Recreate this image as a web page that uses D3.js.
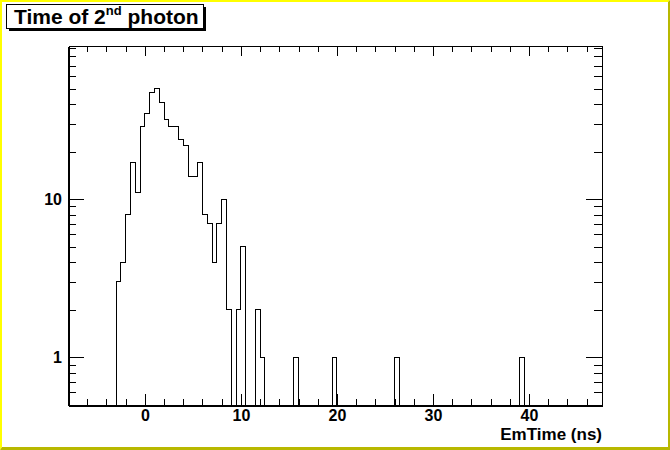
<!DOCTYPE html>
<html>
<head>
<meta charset="utf-8">
<script src="https://cdn.jsdelivr.net/npm/d3@7"></script>
<style>
  body { margin: 0; background: #fff; }
  svg { display: block; font-family: "Liberation Sans", Arial, Helvetica, sans-serif; font-weight: bold; }
</style>
</head>
<body>
<svg id="emtime" width="670" height="450"></svg>
<script>
// histogram contents, 0.5 ns bins
var binWidth = 0.5;
var peakStart = -3.0;
var peakCounts = [3, 4, 8, 17, 11, 29, 35, 47, 50, 41, 32, 29, 29, 24, 22, 14, 14, 17,
                  8, 7, 4, 7, 10, 2, 0, 2, 5, 0, 0, 2, 1];
var spikeStarts = [15.5, 19.5, 26.0, 39.0];
var spikeCounts = [1, 1, 1, 1];

var xRange = [-8, 47.6];
var yRange = [0.5, 93];
var xMajor = [0, 10, 20, 30, 40];
var xMinor = d3.range(-6, 47, 2).filter(function(v) { return v % 10 !== 0; });
var yMajor = [1, 10];
var yMinor = [0.6, 0.7, 0.8, 0.9, 2, 3, 4, 5, 6, 7, 8, 9, 20, 30, 40, 50, 60, 70, 80, 90];

var drawHist = function() {
    var svg = d3.select('#emtime');
    var W = 670, H = 450;
    var fLeft = 68, fRight = 602, fTop = 46, fBottom = 405;

    // canvas border
    svg.append('rect').attr('width', W).attr('height', H).attr('fill', '#fff');
    svg.append('polygon').attr('fill', '#ffff00')
        .attr('points', [[0, 0], [W, 0], [W - 2, 2], [2, 2], [2, H - 3], [0, H]].join(' '));
    svg.append('polygon').attr('fill', '#b8b800')
        .attr('points', [[W, 0], [W, H], [0, H], [2, H - 3], [W - 2, H - 3], [W - 2, 2]].join(' '));

    var x = d3.scaleLinear().domain(xRange).range([fLeft, fRight]);
    var y = d3.scaleLog().domain(yRange).range([fBottom, fTop]);

    // fill every bin of the axis range
    var counts = {};
    peakCounts.forEach(function(c, i) { counts[Math.round((peakStart + i * binWidth - xRange[0]) / binWidth)] = c; });
    spikeStarts.forEach(function(s, i) { counts[Math.round((s - xRange[0]) / binWidth)] = spikeCounts[i]; });

    var pts = [[xRange[0], yRange[0]]];
    var nBins = Math.ceil((xRange[1] - xRange[0]) / binWidth);
    for (var i = 0; i < nBins; i++) {
        var lo = xRange[0] + i * binWidth;
        var hi = Math.min(lo + binWidth, xRange[1]);
        var c = counts[i] || 0;
        if (c < yRange[0]) c = yRange[0];
        pts.push([lo, c], [hi, c]);
    }
    pts.push([xRange[1], yRange[0]]);

    var line = d3.line()
        .x(function(d) { return x(d[0]); })
        .y(function(d) { return y(d[1]); });

    svg.append('path')
        .attr('d', line(pts))
        .attr('fill', 'none')
        .attr('stroke', '#000')
        .attr('stroke-width', 1)
        .attr('shape-rendering', 'crispEdges');

    function styleAxis(g, w) {
        g.select('.domain').attr('stroke-width', w);
        g.selectAll('.tick line').attr('stroke-width', 1);
        g.selectAll('text').attr('font-family', null).attr('font-size', 16).attr('fill', '#000');
        g.attr('shape-rendering', 'crispEdges');
    }

    // bottom
    svg.append('g').attr('transform', 'translate(0,' + fBottom + ')')
        .call(d3.axisBottom(x).tickValues(xMinor).tickSize(-6).tickSizeOuter(0).tickFormat(''))
        .call(styleAxis, 2);
    svg.append('g').attr('transform', 'translate(0,' + fBottom + ')')
        .call(d3.axisBottom(x).tickValues(xMajor).tickSize(-11).tickSizeOuter(0).tickPadding(5).tickFormat(d3.format('d')))
        .call(styleAxis, 2);
    // top
    svg.append('g').attr('transform', 'translate(0,' + fTop + ')')
        .call(d3.axisTop(x).tickValues(xMinor).tickSize(-6).tickSizeOuter(0).tickFormat(''))
        .call(styleAxis, 1);
    svg.append('g').attr('transform', 'translate(0,' + fTop + ')')
        .call(d3.axisTop(x).tickValues(xMajor).tickSize(-10).tickSizeOuter(0).tickFormat(''))
        .call(styleAxis, 1);
    // left
    svg.append('g').attr('transform', 'translate(' + fLeft + ',0)')
        .call(d3.axisLeft(y).tickValues(yMinor).tickSize(-8).tickSizeOuter(0).tickFormat(''))
        .call(styleAxis, 2);
    svg.append('g').attr('transform', 'translate(' + fLeft + ',0)')
        .call(d3.axisLeft(y).tickValues(yMajor).tickSize(-16).tickSizeOuter(0).tickPadding(6).tickFormat(d3.format('d')))
        .call(styleAxis, 2);
    // right
    svg.append('g').attr('transform', 'translate(' + fRight + ',0)')
        .call(d3.axisRight(y).tickValues(yMinor).tickSize(-8).tickSizeOuter(0).tickFormat(''))
        .call(styleAxis, 1);
    svg.append('g').attr('transform', 'translate(' + fRight + ',0)')
        .call(d3.axisRight(y).tickValues(yMajor).tickSize(-16).tickSizeOuter(0).tickFormat(''))
        .call(styleAxis, 1);

    svg.append('text')
        .attr('x', fRight)
        .attr('y', 440)
        .attr('text-anchor', 'end')
        .attr('font-size', 17)
        .text('EmTime (ns)');

    // title box with shadow
    svg.append('rect').attr('x', 9).attr('y', 7).attr('width', 197).attr('height', 24).attr('fill', '#000');
    svg.append('rect').attr('x', 6.5).attr('y', 4.5).attr('width', 197).attr('height', 24)
        .attr('fill', '#fff').attr('stroke', '#000').attr('stroke-width', 1);
    var title = svg.append('text').attr('x', 14).attr('y', 24).attr('font-size', 21);
    title.append('tspan').text('Time of 2');
    title.append('tspan').attr('font-size', 13).attr('dy', -9).text('nd');
    title.append('tspan').attr('dy', 9).text(' photon');
};

drawHist();
</script>
</body>
</html>
